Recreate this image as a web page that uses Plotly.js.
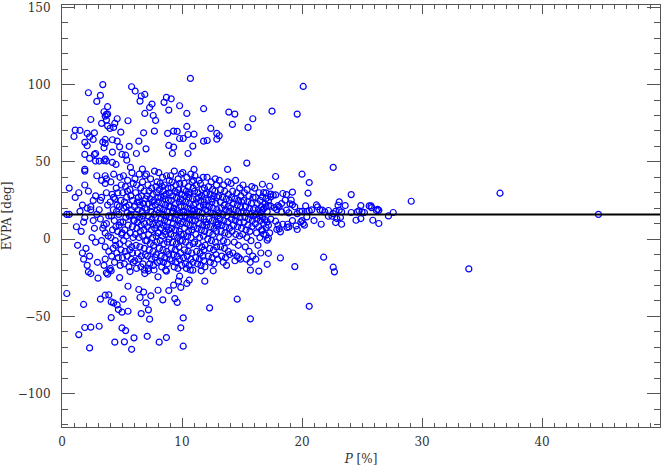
<!DOCTYPE html>
<html>
<head>
<meta charset="utf-8">
<script src="https://cdn.plot.ly/plotly-3.0.1.min.js"></script>
<style>
  html, body { margin: 0; padding: 0; background: #fff; }
  #chart { width: 662px; height: 466px; }
</style>
</head>
<body>
<div id="chart"></div>
<script>
// EVPA vs fractional polarisation P, [P (%), EVPA (deg)]

// scattered points above the main cloud
const upperLowP = [[3.4,100],[5.8,98.6],[6.1,95.8],[2.2,94.7],[3.2,93],[6.9,93.6],[6.6,92.6],[2.9,89.1],[6.5,89.3],[7.5,87.4],
  [3.8,85.7],[7.3,85.2],[3.5,82.4],[6.9,81.3],[7.6,80],[3.7,80.7],[3.8,80.9],[3.6,79.6],[2.4,77.4],[4.6,77.9],
  [5.5,76.6],[3.7,77],[7.8,76.8],[3.3,74.9],[4.4,74.9],[3.8,73.3],[4.3,72.3],[4,71.6],[1.1,70.5],[1.5,70.3],
  [2.1,68.4],[2.7,68.8],[4.9,69.2],[6.8,68.8],[7.7,69.9],[1,66.4],[2.3,66.2],[2.6,64.5],[3.6,64.5],[4.2,64.3],
  [4.6,63.4],[1.9,62.6],[3.4,62.8],[3.6,61.9],[6.4,63.4],[2.1,60.4],[3.5,59.1],[4.8,59.7],[5.6,60],[7,58.4],
  [2.8,55.4],[2.7,54.8],[4.2,56.3],[1.9,54.8],[5,54.8],[5.3,54.3],[6.2,55.4],[2.3,52.2],[3.6,51.8],[2.8,50.5],
  [3.1,50.5],[3.5,50.7],[3.7,50.5],[4.2,49.6],[5.4,51.1],[4.5,48.3],[1.9,45.1],[5.7,46.4],[6.7,45.3]];
const upperMidP = [[10.7,104],[8.7,91.7],[9.1,90.8],[8.5,88.5],[9.8,86.3],[8.9,83.5],[10.4,81.3],[11.8,84.4],[13.9,82.2],[14.4,80.9],
  [15.9,77.9],[14.2,74.2],[15.5,72.3],[10.4,72.9],[8.8,68.4],[9.3,69.9],[9.6,69.7],[12.4,71.6],[10.5,67.7],[11,67.9],
  [12.9,68.4],[13.1,66.9],[9.8,65.1],[10.1,65.1],[12.9,64.7],[11.8,63.4],[12.1,63.8],[8.9,60.6],[9.3,59.5],[10.9,60.2],
  [9.2,55.4],[10.5,55.4],[15.4,49.2],[11,45.1],[13.8,45.1]];
const upperHighP = [[20.1,98.8],[17.5,82.8],[19.6,80.9],[22.6,46.4]];

// scattered points below the main cloud
const lowerLowP = [[2.2,-21.2],[2.4,-22.3],[3.7,-21.8],[3.8,-22.7],[4.1,-20.5],[3,-25.3],[4.8,-24.9],[6.9,-22.3],[7.2,-20.5],[8,-24.4],
  [0.4,-35.2],[5.5,-30.5],[3.6,-36.3],[3.9,-36.1],[3.2,-38.9],[5.1,-38.9],[6.4,-32.6],[6.8,-34.3],[7.4,-36.7],[8,-33.1],
  [6.5,-37.8],[4.1,-40.6],[4.3,-41.3],[4.6,-42.6],[1.8,-42.3],[7,-41.3],[4.7,-45.6],[5,-47.3],[5.5,-46.7],[6.6,-48.2],
  [7.2,-45.8],[4.1,-50.8],[7.3,-51.8],[1.9,-57.2],[2.4,-57],[3.1,-56.4],[1.4,-61.8],[5,-57.5],[5.3,-59.2],[4.4,-66.7],
  [5.2,-66.5],[6,-63.9],[7.1,-62.9],[8.1,-66.7],[2.3,-70.4],[5.8,-71.3]];
const lowerMidP = [[8.7,-20.7],[10.9,-20.1],[11.6,-20.5],[12.6,-20.5],[9.8,-24],[9.7,-27.2],[9.3,-29.8],[8.9,-33.3],[10.6,-26.6],[10.4,-28.7],
  [9.9,-31.3],[11.9,-27.2],[8.4,-39.3],[9.4,-38.5],[9.6,-41],[12.3,-44.5],[14.6,-38.9],[10.1,-51],[15.7,-51.6],[9.9,-57.4],
  [8.7,-63.7],[10.1,-69.3],[15.7,-20.1],[16.4,-20.7],[20.6,-43.5]];

// main cloud, by P range
const core0to4 = [[0.4,16],[0.6,33],[0.6,16],[1.1,27],[1.2,8],[1.3,-4],[1.4,30],[1.5,18],[1.6,5],[1.7,-9],
  [1.8,11],[1.9,14],[1.8,-13],[1.9,35],[1.9,44],[1.7,22],[2,-6],[2.1,20],[2.1,-17],[2.2,31],
  [2.3,-11],[2.4,21],[2.4,19],[2.5,1],[2.6,12],[2.6,25],[2.7,7],[2.8,28],[2.8,-2],[2.9,16],
  [2.9,41],[2.95,-15],[3.1,19],[3.2,25],[3.2,13],[3.3,27],[3.3,38],[3.3,-1],[3.4,7],[3.5,9],
  [3.5,-17],[3.6,41],[3.6,4],[3.6,-5],[3.6,-13],[3.7,30],[3.7,39],[3.7,10],[3.6,36],[3.8,22],
  [3.9,-8],[3.9,15],[3.95,-20],[3.85,2]];
const core4to8 = [[4.07,37],[4.52,33],[4.83,40],[4.31,42],[4.18,29],[4.66,30],[4.94,35],[4.02,24],[4.41,26],[4.78,21],
  [4.27,19],[4.59,22],[4.12,15],[4.73,16],[4.88,11],[4.36,12],[4.49,8],[4.21,6],[4.97,3],[4.63,5],
  [4.08,1],[4.44,-1],[4.81,-3],[4.26,-6],[4.57,-9],[4.92,-7],[4.14,-11],[4.69,-12],[4.38,-15],[4.85,-17],
  [4.03,-19],[4.55,18],[4.29,27],[4.76,9],[4.47,-4],[4.91,25],
  [5.12,41],[5.47,38],[5.83,43],[5.28,34],[5.66,32],[5.94,36],[5.06,30],[5.39,27],[5.74,28],[5.21,24],
  [5.58,22],[5.89,25],[5.15,20],[5.43,17],[5.79,19],[5.32,14],[5.61,15],[5.97,12],[5.08,11],[5.51,9],
  [5.86,8],[5.24,6],[5.69,4],[5.36,2],[5.92,1],[5.13,-1],[5.55,-3],[5.81,-5],[5.27,-8],[5.64,-7],
  [5.04,-12],[5.42,-11],[5.77,-13],[5.19,-16],[5.58,-18],[5.93,-15],[5.35,21],[5.72,16],[5.46,31],[5.01,4],
  [5.88,-9],[5.67,-21],
  [6.08,39],[6.43,42],[6.71,37],[6.92,41],[6.22,35],[6.56,33],[6.84,31],[6.14,30],[6.37,27],[6.63,28],
  [6.97,26],[6.27,24],[6.51,22],[6.79,23],[6.05,21],[6.34,19],[6.68,18],[6.91,20],[6.19,16],[6.47,14],
  [6.76,15],[6.03,12],[6.31,11],[6.59,9],[6.88,10],[6.24,7],[6.53,5],[6.82,6],[6.11,3],[6.42,1],
  [6.73,2],[6.96,-1],[6.17,-4],[6.49,-5],[6.85,-6],[6.29,-9],[6.61,-11],[6.94,-10],[6.07,-14],[6.39,-13],
  [6.74,-16],[6.21,-19],[6.58,-18],[6.87,-20],[6.45,24],[6.66,13],
  [7.04,42],[7.38,39],[7.71,44],[7.92,37],[7.16,35],[7.47,33],[7.83,34],[7.26,31],[7.59,29],[7.89,30],
  [7.09,28],[7.34,26],[7.66,25],[7.97,27],[7.21,23],[7.52,21],[7.78,22],[7.06,19],[7.41,18],[7.69,16],
  [7.94,19],[7.18,15],[7.49,13],[7.81,14],[7.29,11],[7.57,10],[7.87,9],[7.12,8],[7.44,6],[7.73,7],
  [7.99,4],[7.23,3],[7.55,1],[7.84,2],[7.08,-1],[7.36,-3],[7.64,-4],[7.91,-2],[7.27,-7],[7.58,-8],
  [7.86,-10],[7.13,-11],[7.45,-13],[7.76,-12],[7.31,-16],[7.62,-17],[7.95,-15],[7.19,-19],[7.53,24],[7.67,-20]];
const core8to12 = [[8.06,43],[8.38,40],[8.71,41],[8.94,38],[8.19,36],[8.52,35],[8.83,33],[8.11,32],[8.43,31],[8.67,29],
  [8.97,30],[8.24,27],[8.58,26],[8.86,25],[8.03,24],[8.33,23],[8.62,22],[8.91,21],[8.17,20],[8.47,19],
  [8.77,18],[8.09,17],[8.39,16],[8.68,15],[8.95,14],[8.22,13],[8.54,12],[8.81,11],[8.13,10],[8.44,9],
  [8.73,8],[8.28,7],[8.59,5],[8.88,6],[8.04,4],[8.36,2],[8.65,3],[8.92,0],[8.18,-1],[8.49,-3],
  [8.79,-2],[8.11,-6],[8.41,-7],[8.72,-8],[8.26,-11],[8.57,-12],[8.89,-10],[8.15,-14],[8.46,-15],[8.78,-16],
  [8.31,-18],[8.63,-20],[8.98,-13],[8.51,28],[8.35,34],
  [9.04,41],[9.36,44],[9.68,39],[9.93,42],[9.17,37],[9.49,35],[9.81,36],[9.09,33],[9.41,31],[9.72,32],
  [9.97,29],[9.23,28],[9.54,27],[9.86,26],[9.12,25],[9.44,23],[9.76,24],[9.03,21],[9.31,20],[9.62,19],
  [9.91,21],[9.19,17],[9.51,16],[9.83,17],[9.08,14],[9.39,13],[9.69,12],[9.95,15],[9.27,10],[9.58,9],
  [9.87,10],[9.14,7],[9.46,6],[9.78,5],[9.06,3],[9.34,2],[9.64,1],[9.92,3],[9.21,-2],[9.53,-3],
  [9.84,-1],[9.11,-6],[9.43,-7],[9.74,-5],[9.29,-10],[9.61,-11],[9.89,-9],[9.16,-14],[9.48,-15],[9.79,-13],
  [9.35,-18],[9.66,-19],[9.98,-17],[9.57,30],[9.26,18],
  [10.07,43],[10.41,40],[10.73,42],[10.96,38],[10.18,36],[10.52,34],[10.84,37],[10.11,32],[10.36,31],[10.67,30],
  [10.92,33],[10.24,28],[10.57,27],[10.88,26],[10.04,25],[10.33,24],[10.64,23],[10.97,22],[10.21,21],[10.49,20],
  [10.79,19],[10.13,18],[10.44,17],[10.71,16],[10.94,18],[10.27,14],[10.58,13],[10.86,12],[10.09,11],[10.39,10],
  [10.68,9],[10.99,8],[10.22,7],[10.54,5],[10.82,6],[10.14,3],[10.46,2],[10.76,1],[10.03,-1],[10.31,-2],
  [10.62,-4],[10.93,-3],[10.19,-7],[10.51,-8],[10.81,-9],[10.12,-12],[10.43,-11],[10.74,-13],[10.28,-16],[10.59,-17],
  [10.91,-15],[10.37,-19],[10.69,-20],[10.55,29],[10.26,15],
  [11.08,41],[11.42,38],[11.76,40],[11.19,35],[11.53,36],[11.87,33],[11.04,31],[11.33,30],[11.64,28],[11.94,29],
  [11.22,26],[11.56,25],[11.85,24],[11.13,23],[11.46,21],[11.78,22],[11.07,19],[11.37,18],[11.69,17],[11.96,19],
  [11.24,15],[11.55,14],[11.84,13],[11.11,12],[11.42,10],[11.73,9],[11.99,11],[11.28,7],[11.61,6],[11.89,5],
  [11.16,3],[11.47,1],[11.79,2],[11.05,-2],[11.35,-3],[11.66,-5],[11.93,-4],[11.21,-8],[11.52,-9],[11.83,-7],
  [11.14,-12],[11.45,-13],[11.74,-11],[11.29,-16],[11.58,-17],[11.91,-18],[11.39,27],[11.67,32],[11.02,16],[11.81,-14]];
const core12to17 = [[12.09,40],[12.43,37],[12.77,39],[12.21,34],[12.55,32],[12.88,35],[12.04,30],[12.34,29],[12.66,28],[12.93,27],
  [12.18,25],[12.49,24],[12.81,23],[12.27,21],[12.59,20],[12.91,19],[12.12,18],[12.41,17],[12.72,16],[12.97,15],
  [12.24,13],[12.53,12],[12.84,11],[12.07,9],[12.38,8],[12.68,7],[12.95,9],[12.26,4],[12.57,3],[12.86,5],
  [12.14,0],[12.46,-1],[12.78,-2],[12.31,-6],[12.62,-7],[12.89,-5],[12.19,-11],[12.51,-12],[12.83,-10],[12.36,-15],
  [12.67,-16],[12.98,-13],[12.47,26],[12.74,31],[12.03,22],
  [13.11,38],[13.48,35],[13.82,37],[13.23,32],[13.56,31],[13.88,29],[13.06,28],[13.37,27],[13.69,26],[13.94,25],
  [13.19,24],[13.51,22],[13.84,21],[13.28,20],[13.61,19],[13.92,18],[13.08,17],[13.42,16],[13.74,15],[13.17,13],
  [13.49,12],[13.81,11],[13.03,10],[13.33,9],[13.64,8],[13.96,7],[13.26,5],[13.58,4],[13.87,3],[13.14,1],
  [13.45,-1],[13.77,-2],[13.22,-5],[13.54,-6],[13.86,-8],[13.31,-11],[13.63,-12],[13.97,-10],[13.44,-15],[13.71,-17],
  [14.09,36],[14.46,38],[14.81,33],[14.22,31],[14.57,30],[14.91,28],[14.13,27],[14.39,26],[14.72,25],[14.96,24],
  [14.27,23],[14.61,22],[14.88,21],[14.06,20],[14.34,19],[14.67,18],[14.93,17],[14.19,16],[14.52,15],[14.84,14],
  [14.11,13],[14.43,12],[14.76,11],[14.29,9],[14.63,8],[14.95,7],[14.17,5],[14.48,3],[14.79,2],[14.36,-2],
  [14.69,-4],[14.24,-9],[14.58,-11],[14.87,-13],[14.41,-14],[14.73,-12],
  [15.08,35],[15.43,32],[15.81,34],[15.21,30],[15.57,28],[15.92,27],[15.14,25],[15.46,24],[15.78,23],[15.29,21],
  [15.63,20],[15.94,19],[15.11,18],[15.38,17],[15.71,16],[15.97,15],[15.24,14],[15.53,13],[15.86,12],[15.17,11],
  [15.49,9],[15.82,8],[15.33,6],[15.66,5],[15.06,3],[15.41,1],[15.75,-1],[15.27,-5],[15.59,-8],[15.89,-11],
  [15.36,-13],[15.68,-15],
  [16.06,33],[16.42,30],[16.13,27],[16.51,25],[16.28,23],[16.62,21],[16.09,20],[16.36,19],[16.58,17],[16.17,16],
  [16.47,15],[16.24,13],[16.55,12],[16.11,10],[16.39,8],[16.63,6],[16.21,4],[16.49,1],[16.33,-4],[16.57,-9],
  [16.15,-13]];
const coreHighP = [[16.7,35.5],[17.3,34.2],[17.8,40.5],[20,42],[20.6,36.6],[16.8,30.1],[17,29.9],[17.4,29.1],[17.6,28.4],[17.8,28.6],
  [17.4,27.3],[18.4,29.5],[18.7,28.8],[19.2,30.4],[20.5,29.7],[24.1,28.8],[16.7,27.3],[17,26.2],[17.2,24.7],[16.9,23],
  [17.2,21.7],[17.4,21.3],[17.7,20.4],[18,21.7],[18.3,23],[18.6,25.2],[19,22.8],[19.1,25.2],[19.2,22.2],[16.7,18.7],
  [16.8,19.6],[17,20.9],[17.1,17.8],[17.9,19.1],[18.1,20.9],[18.3,17.6],[18.7,18.7],[18.9,17],[19.4,20.9],[19.6,16.5],
  [19.8,18],[20,18],[20.3,21.5],[20.4,18],[20.6,18.3],[20.8,18.9],[21.2,22.1],[21.3,20.9],[21.5,18.7],[21.7,18.7],
  [21.9,17.6],[22.2,18.5],[22.5,14.8],[22.2,14.8],[22.6,16.5],[22.8,18],[23.1,18.7],[23.3,17.6],[23.1,24.1],[23,21.9],
  [23.6,21.7],[16.7,14.4],[16.9,12.6],[17.1,11.1],[16.8,10.1],[17.2,9],[17,7.5],[16.7,5.7],[17.4,12.9],[17.8,11.6],
  [18,9],[17.9,6.2],[18.1,6.6],[18.2,4.7],[18.4,9.6],[18.8,9.6],[18.9,7.9],[18.75,7.5],[19.2,12],[19.5,8.5],
  [19.6,6.2],[19.9,11.1],[20,12],[20.1,10.1],[20.2,9],[20.4,14.4],[21,12],[21.6,9.6],[22.8,10.7],[22.9,13.3],
  [23.2,14],[23.3,9.6],[17.1,-0.7],[17.2,0.6],[17,2.5],[17.3,4],[16.8,3.1],[17.1,-16.3],[17.2,-9.2],[18.2,-12.2],
  [19.4,-17.8],[21.8,-11.7],[22.6,-18.2],[22.7,-21.2]];
const tailP = [[24.9,21.7],[24.75,18.3],[24.6,17.6],[25,17.6],[25.2,17.2],[24.1,17.2],[24.9,13.3],[24.5,12.2],[25.6,21.5],[25.75,21.5],
  [25.8,20.4],[25.9,12.2],[26.3,19.3],[26.2,18.5],[26.4,18.6],[26.4,10.1],[27.2,15],[27.6,17.2],[29.1,24.5],[33.9,-19.3],
  [36.5,29.7],[44.7,16]];

// reference EVPA drawn as the horizontal line
const meanEvpa = 16;

const pRange = [0, 49.83];
const evpaRange = [-121.6, 151.5];

function buildChart() {
    const groups = [upperLowP, upperMidP, upperHighP, lowerLowP, lowerMidP,
                    core0to4, core4to8, core8to12, core12to17, coreHighP, tailP];
    const pts = [].concat(...groups);

    const scatter = {
        x: pts.map(d => d[0]),
        y: pts.map(d => d[1]),
        type: 'scatter',
        mode: 'markers',
        marker: { symbol: 'circle-open', size: 6, color: '#0000ff', line: { width: 1.2 } },
        hoverinfo: 'skip',
        showlegend: false
    };

    const tickFont = { family: 'DejaVu Serif', size: 12, color: '#333' };
    const axisGray = '#555';

    const layout = {
        width: 662,
        height: 466,
        margin: { l: 62, r: 2, t: 5, b: 39 },
        paper_bgcolor: '#fff',
        plot_bgcolor: '#fff',
        showlegend: false,
        xaxis: {
            range: pRange,
            tickvals: [0, 10, 20, 30, 40],
            ticks: 'inside',
            ticklen: 9,
            tickwidth: 1,
            tickcolor: axisGray,
            minor: { dtick: 1, ticks: 'inside', ticklen: 4, tickcolor: axisGray, tickwidth: 1 },
            showline: true,
            linecolor: axisGray,
            linewidth: 1,
            mirror: 'ticks',
            showgrid: false,
            zeroline: false,
            tickfont: tickFont,
            ticklabelstandoff: 4,
            title: { text: '<i>P</i> [%]', font: tickFont, standoff: 8 }
        },
        yaxis: {
            range: evpaRange,
            tickvals: [-100, -50, 0, 50, 100, 150],
            ticks: 'inside',
            ticklen: 13,
            tickwidth: 1,
            tickcolor: axisGray,
            minor: { dtick: 10, ticks: 'inside', ticklen: 6, tickcolor: axisGray, tickwidth: 1 },
            showline: true,
            linecolor: axisGray,
            linewidth: 1,
            mirror: 'ticks',
            showgrid: false,
            zeroline: false,
            tickfont: tickFont,
            ticklabelstandoff: 8,
            title: { text: 'EVPA [deg]', font: tickFont, standoff: 6 }
        },
        shapes: [{
            type: 'line', xref: 'paper', x0: 0, x1: 1,
            yref: 'y', y0: meanEvpa, y1: meanEvpa,
            line: { color: '#000', width: 2 }
        }]
    };

    Plotly.newPlot('chart', [scatter], layout, { displayModeBar: false, staticPlot: true });
}

document.addEventListener('DOMContentLoaded', buildChart);
</script>
</body>
</html>
